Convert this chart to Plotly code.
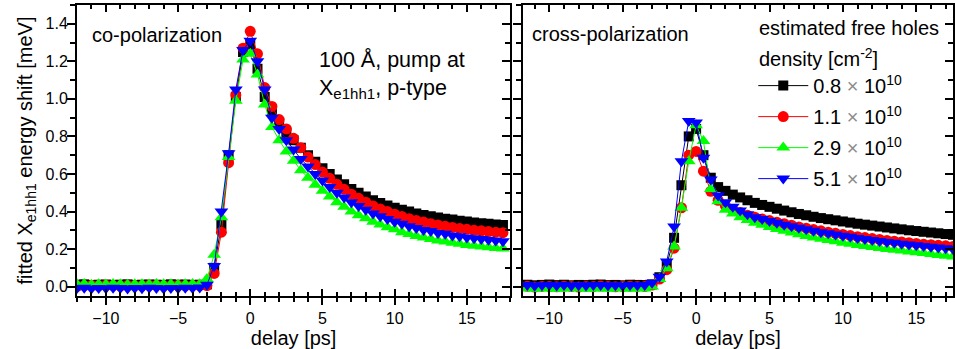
import plotly.graph_objects as go

# delay grid [ps]
delay = [-12.0, -11.5, -11.0, -10.5, -10.0, -9.5, -9.0, -8.5, -8.0, -7.5,
         -7.0, -6.5, -6.0, -5.5, -5.0, -4.5, -4.0, -3.5, -3.0, -2.5,
         -2.0, -1.5, -1.0, -0.5, 0.0, 0.5, 1.0, 1.5, 2.0, 2.5,
         3.0, 3.5, 4.0, 4.5, 5.0, 5.5, 6.0, 6.5, 7.0, 7.5,
         8.0, 8.5, 9.0, 9.5, 10.0, 10.5, 11.0, 11.5, 12.0, 12.5,
         13.0, 13.5, 14.0, 14.5, 15.0, 15.5, 16.0, 16.5, 17.0, 17.5]

# co-polarization (left panel)
co_08 = [0.01, 0.012, 0.008, 0.01, 0.011, 0.009, 0.01, 0.012, 0.008, 0.01,
         0.011, 0.01, 0.009, 0.012, 0.01, 0.011, 0.009, 0.01, 0.012, 0.10,
         0.33, 0.70, 1.01, 1.25, 1.29, 1.16, 1.01, 0.93, 0.87, 0.82,
         0.78, 0.74, 0.70, 0.665, 0.63, 0.60, 0.57, 0.545, 0.52, 0.50,
         0.48, 0.46, 0.445, 0.432, 0.42, 0.41, 0.40, 0.39, 0.381, 0.375,
         0.368, 0.362, 0.357, 0.351, 0.347, 0.342, 0.338, 0.335, 0.331, 0.328]
co_11 = [0.002, 0.005, 0.006, 0.004, 0.007, 0.005, 0.003, 0.006, 0.005, 0.004,
         0.006, 0.007, 0.004, 0.005, 0.006, 0.004, 0.005, 0.006, 0.005, 0.07,
         0.29, 0.66, 1.02, 1.27, 1.36, 1.24, 1.06, 0.96, 0.89, 0.84,
         0.79, 0.74, 0.69, 0.65, 0.61, 0.577, 0.545, 0.518, 0.492, 0.47,
         0.45, 0.43, 0.414, 0.40, 0.386, 0.374, 0.362, 0.352, 0.344, 0.335,
         0.328, 0.321, 0.315, 0.31, 0.305, 0.30, 0.297, 0.293, 0.29, 0.287]
co_29 = [0.012, 0.014, 0.01, 0.013, 0.011, 0.014, 0.012, 0.01, 0.013, 0.012,
         0.011, 0.014, 0.012, 0.013, 0.01, 0.012, 0.014, 0.013, 0.04, 0.17,
         0.37, 0.69, 0.99, 1.21, 1.24, 1.13, 0.97, 0.85, 0.78, 0.72,
         0.67, 0.62, 0.58, 0.543, 0.51, 0.48, 0.45, 0.425, 0.40, 0.38,
         0.364, 0.346, 0.331, 0.316, 0.305, 0.29, 0.28, 0.27, 0.262, 0.254,
         0.246, 0.24, 0.233, 0.228, 0.222, 0.218, 0.213, 0.21, 0.206, 0.203]
co_51 = [-0.008, -0.006, -0.01, -0.007, -0.009, -0.006, -0.008, -0.01, -0.007, -0.009,
         -0.006, -0.008, -0.01, -0.007, -0.009, -0.006, -0.008, -0.005, 0.01, 0.11,
         0.40, 0.71, 1.05, 1.26, 1.31, 1.20, 1.05, 0.90, 0.84, 0.78,
         0.73, 0.68, 0.64, 0.60, 0.565, 0.53, 0.50, 0.474, 0.45, 0.43,
         0.41, 0.39, 0.375, 0.36, 0.346, 0.335, 0.321, 0.312, 0.301, 0.296,
         0.285, 0.281, 0.272, 0.268, 0.262, 0.257, 0.253, 0.25, 0.245, 0.242]

# cross-polarization (right panel)
cr_08 = [0.008, 0.01, 0.007, 0.009, 0.011, 0.008, 0.01, 0.007, 0.009, 0.008,
         0.01, 0.011, 0.008, 0.009, 0.007, 0.01, 0.009, 0.008, 0.012, 0.05,
         0.116, 0.26, 0.54, 0.80, 0.84, 0.70, 0.58, 0.53, 0.51, 0.49,
         0.475, 0.46, 0.446, 0.435, 0.425, 0.415, 0.405, 0.396, 0.387, 0.38,
         0.372, 0.365, 0.359, 0.353, 0.347, 0.341, 0.335, 0.33, 0.325, 0.32,
         0.315, 0.31, 0.305, 0.30, 0.296, 0.292, 0.288, 0.284, 0.28, 0.276]
cr_11 = [0.0, 0.002, -0.002, 0.001, 0.0, -0.001, 0.002, 0.0, -0.002, 0.001,
         0.0, 0.003, 0.001, -0.001, 0.0, 0.002, 0.001, 0.0, 0.008, 0.04,
         0.09, 0.205, 0.42, 0.70, 0.72, 0.615, 0.508, 0.46, 0.43, 0.41,
         0.395, 0.38, 0.37, 0.36, 0.352, 0.343, 0.335, 0.327, 0.318, 0.311,
         0.304, 0.297, 0.29, 0.284, 0.278, 0.272, 0.266, 0.261, 0.256, 0.251,
         0.246, 0.242, 0.238, 0.234, 0.23, 0.226, 0.223, 0.22, 0.217, 0.214]
cr_29 = [-0.01, -0.008, -0.011, -0.009, -0.01, -0.012, -0.009, -0.01, -0.008, -0.011,
         -0.01, -0.009, -0.012, -0.01, -0.008, -0.011, -0.009, -0.01, 0.0, 0.04,
         0.098, 0.214, 0.42, 0.668, 0.86, 0.775, 0.52, 0.455, 0.41, 0.39,
         0.37, 0.355, 0.34, 0.329, 0.318, 0.307, 0.297, 0.288, 0.279, 0.27,
         0.262, 0.255, 0.248, 0.241, 0.234, 0.228, 0.222, 0.216, 0.211, 0.206,
         0.201, 0.196, 0.192, 0.187, 0.183, 0.179, 0.174, 0.169, 0.164, 0.16]
cr_51 = [0.006, 0.008, 0.005, 0.007, 0.009, 0.006, 0.008, 0.005, 0.007, 0.006,
         0.008, 0.009, 0.006, 0.007, 0.005, 0.008, 0.007, 0.009, 0.02, 0.053,
         0.134, 0.32, 0.668, 0.882, 0.874, 0.687, 0.57, 0.485, 0.45, 0.425,
         0.405, 0.386, 0.37, 0.36, 0.35, 0.34, 0.33, 0.322, 0.313, 0.305,
         0.297, 0.29, 0.284, 0.277, 0.271, 0.265, 0.259, 0.253, 0.248, 0.243,
         0.238, 0.233, 0.228, 0.224, 0.22, 0.216, 0.212, 0.208, 0.204, 0.2]

density_labels = ["0.8", "1.1", "2.9", "5.1"]
colors = ["#000000", "#FF0000", "#00FF00", "#0000FF"]
symbols = ["square", "circle", "triangle-up", "triangle-down"]
sizes = [10, 11, 12, 12]

co_series = [co_08, co_11, co_29, co_51]
cr_series = [cr_08, cr_11, cr_29, cr_51]

FONT = "Arial, Liberation Sans, sans-serif"

fig = go.Figure()
for i in range(4):
    fig.add_trace(go.Scatter(
        x=delay, y=co_series[i], mode="lines+markers",
        line=dict(color=colors[i], width=1),
        marker=dict(symbol=symbols[i], size=sizes[i], color=colors[i], line=dict(width=0)),
        xaxis="x", yaxis="y", showlegend=False))
for i in range(4):
    name = density_labels[i] + " <span style='color:#8c8c8c'>×</span> 10<sup>10</sup>"
    fig.add_trace(go.Scatter(
        x=delay, y=cr_series[i], mode="lines+markers", name=name,
        legendgroup="g%d" % i,
        line=dict(color=colors[i], width=1),
        marker=dict(symbol=symbols[i], size=sizes[i], color=colors[i], line=dict(width=0)),
        xaxis="x2", yaxis="y2", showlegend=True))

# empty carrier traces so the frame-only axes (inner ticks, top and right borders) are drawn
for xa, ya in [("x3", "y"), ("x4", "y2"), ("x5", "y"), ("x6", "y2"), ("x", "y3"), ("x2", "y4")]:
    fig.add_trace(go.Scatter(x=[None], y=[None], xaxis=xa, yaxis=ya, mode="markers",
                             showlegend=False, hoverinfo="skip"))

XR1 = [-12, 18]
XR2 = [-11.8, 17.5]
YR = [-0.05, 1.5]
D1 = [0, 0.4945]
D2 = [0.509, 1]

tickfont = dict(family=FONT, size=16, color="black")
common_x = dict(showgrid=False, zeroline=False, dtick=5, tick0=0, automargin=False,
                tickcolor="black", tickwidth=1.5)
common_y = dict(showgrid=False, zeroline=False, dtick=0.2, tick0=0, automargin=False,
                tickcolor="black", tickwidth=1.5)


def main_x(dom, rng, anchor):
    return dict(domain=dom, range=rng, anchor=anchor, showline=True, linewidth=2,
                linecolor="black", ticks="outside", ticklen=7, tickfont=tickfont,
                ticklabelstandoff=0,
                minor=dict(ticks="outside", dtick=1, ticklen=4, tickwidth=1.5, tickcolor="black"),
                title=dict(text="delay [ps]", font=dict(family=FONT, size=20, color="black"), standoff=0),
                **common_x)


def inner_x(dom, rng, over, anchor, side, line):
    return dict(domain=dom, range=rng, overlaying=over, anchor=anchor, side=side, showline=line,
                linewidth=2, linecolor="black", ticks="inside", ticklen=7,
                showticklabels=False,
                minor=dict(ticks="inside", dtick=1, ticklen=4, tickwidth=1.5, tickcolor="black"),
                **common_x)


def main_y(rng, anchor, labels, title=None):
    d = dict(domain=[0, 1], range=rng, anchor=anchor, showline=True, linewidth=2,
             linecolor="black", ticks="outside", ticklen=8, showticklabels=labels,
             tickfont=tickfont, tickformat=".1f", ticklabelstandoff=-4,
             minor=dict(ticks="outside", dtick=0.1, ticklen=5, tickwidth=1.5, tickcolor="black"),
             **common_y)
    if title:
        d["title"] = dict(text=title, font=dict(family=FONT, size=20, color="black"), standoff=8)
    return d


def inner_y(rng, over, anchor):
    return dict(domain=[0, 1], range=rng, overlaying=over, anchor=anchor, side="right", showline=True,
                linewidth=2, linecolor="black", ticks="inside", ticklen=8,
                showticklabels=False,
                minor=dict(ticks="inside", dtick=0.1, ticklen=5, tickwidth=1.5, tickcolor="black"),
                **common_y)


def label(text, x, y, size=20, align="left"):
    return dict(text=text, xref="paper", yref="paper", x=x, y=y, xanchor="left",
                yanchor="middle", align=align, showarrow=False,
                font=dict(family=FONT, size=size, color="black"))


fig.update_layout(
    width=955, height=349,
    margin=dict(l=77, r=2, t=5, b=53),
    paper_bgcolor="white", plot_bgcolor="white",
    font=dict(family=FONT, size=20, color="black"),
    xaxis=main_x(D1, XR1, "y"),
    xaxis2=main_x(D2, XR2, "y2"),
    xaxis3=inner_x(D1, XR1, "x", "y", "bottom", False),
    xaxis4=inner_x(D2, XR2, "x2", "y2", "bottom", False),
    xaxis5=inner_x(D1, XR1, "x", "y", "top", True),
    xaxis6=inner_x(D2, XR2, "x2", "y2", "top", True),
    yaxis=main_y(YR, "x", True, "fitted X<sub>e1hh1</sub> energy shift [meV]"),
    yaxis2=main_y(YR, "x2", False),
    yaxis3=inner_y(YR, "y", "x"),
    yaxis4=inner_y(YR, "y2", "x2"),
    legend=dict(
        x=0.772, y=0.79, xanchor="left", yanchor="top",
        bgcolor="rgba(0,0,0,0)", borderwidth=0,
        font=dict(family=FONT, size=20, color="black"),
        itemsizing="trace", tracegroupgap=2, itemwidth=50,
    ),
    annotations=[
        label("co-polarization", 0.0148, 0.897),
        label("100 Å, pump at<br>X<sub>e1hh1</sub>, p-type", 0.2737, 0.759, size=21.5),
        label("cross-polarization", 0.5173, 0.9),
        label("estimated free holes", 0.7765, 0.921),
        label("density [cm<sup>-2</sup>]", 0.7765, 0.818),
    ],
)

fig.write_html("out.html", config={"displayModeBar": False},
               post_script="document.body.style.margin='0px';")
